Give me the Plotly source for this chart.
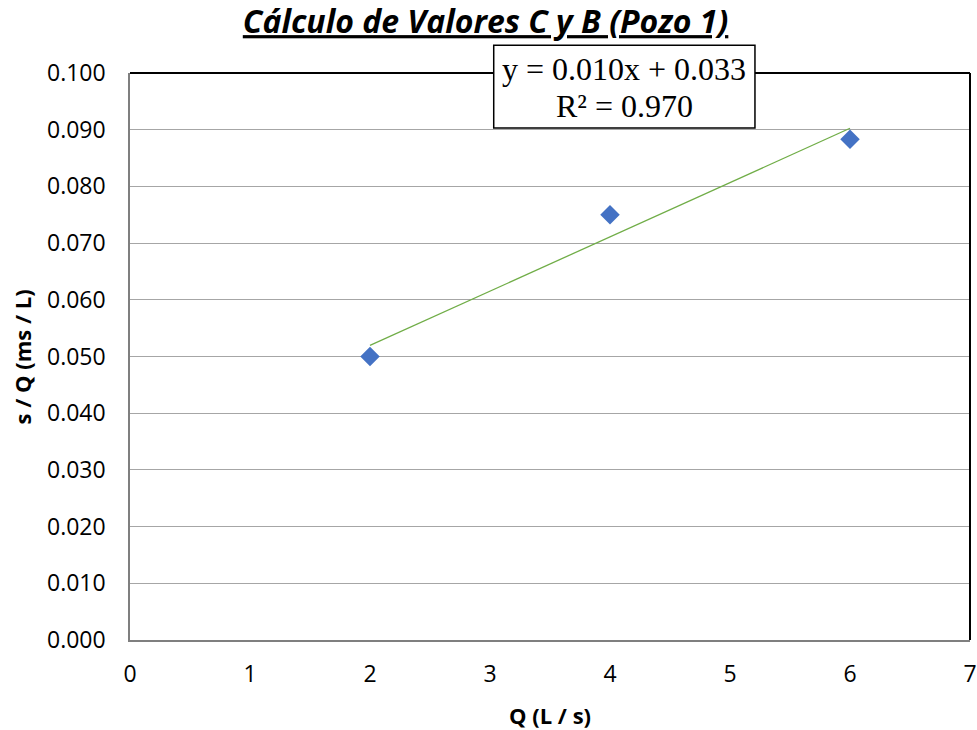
import numpy as np
import plotly.graph_objects as go

q_values = [2, 4, 6]
sq_values = [0.0500, 0.0750, 0.0883]
x_ticks = [0, 1, 2, 3, 4, 5, 6, 7]
y_ticks = [0.000, 0.010, 0.020, 0.030, 0.040, 0.050, 0.060, 0.070, 0.080, 0.090, 0.100]

slope, intercept = np.polyfit(q_values, sq_values, 1)
pred = np.polyval([slope, intercept], q_values)
ss_res = np.sum((np.array(sq_values) - pred) ** 2)
ss_tot = np.sum((np.array(sq_values) - np.mean(sq_values)) ** 2)
r2 = 1 - ss_res / ss_tot
x_line = [min(q_values), max(q_values)]
y_line = list(np.polyval([slope, intercept], x_line))

font_sans = "'Open Sans', sans-serif"
font_serif = "'Liberation Serif', 'Times New Roman', serif"

fig = go.Figure()
fig.add_trace(go.Scatter(x=x_line, y=y_line, mode="lines",
                         line=dict(color="#70AD47", width=1.3), hoverinfo="skip"))
fig.add_trace(go.Scatter(x=q_values, y=sq_values, mode="markers",
                         marker=dict(symbol="diamond", size=15, color="#4472C4")))

fig.update_layout(
    width=977, height=730,
    margin=dict(l=130, r=7, t=73, b=90, autoexpand=False),
    paper_bgcolor="white", plot_bgcolor="white",
    showlegend=False,
    title=dict(text="<b><i><u>Cálculo de Valores C y B (Pozo 1)</u></i></b>",
               x=0.497, xanchor="center", y=0.970, yanchor="middle",
               font=dict(family=font_sans, size=32, color="black")),
    xaxis=dict(range=[0, 7], tickvals=x_ticks, ticktext=[str(v) for v in x_ticks],
               showgrid=False, zeroline=False, showline=True, linecolor="#7F7F7F", linewidth=1.5,
               ticks="", ticklabelstandoff=13, automargin=False,
               tickfont=dict(family=font_sans, size=23, color="black")),
    yaxis=dict(range=[0, 0.100], tickvals=y_ticks, ticktext=[f"{v:.3f}" for v in y_ticks],
               showgrid=True, gridcolor="#A6A6A6", gridwidth=1,
               zeroline=False, showline=True, linecolor="#7F7F7F", linewidth=1.5,
               ticks="", ticklabelstandoff=18, automargin=False,
               tickfont=dict(family=font_sans, size=23, color="black")),
)

# axis titles
fig.add_annotation(xref="paper", yref="paper", x=0.5, y=-0.132, xanchor="center", yanchor="middle",
                   text="<b>Q (L / s)</b>", showarrow=False,
                   font=dict(family=font_sans, size=22, color="black"))
fig.add_annotation(xref="paper", yref="paper", x=-0.1286, y=0.5, xanchor="center", yanchor="middle",
                   text="<b>s / Q (ms / L)</b>", showarrow=False, textangle=-90,
                   font=dict(family=font_sans, size=22, color="black"))

# top and right border of plot area
fig.add_shape(type="line", xref="paper", yref="paper", x0=0, x1=1, y0=1, y1=1,
              line=dict(color="black", width=2), layer="above")
fig.add_shape(type="line", xref="paper", yref="paper", x0=1, x1=1, y0=0, y1=1,
              line=dict(color="black", width=2), layer="above")

# equation box
fig.add_shape(type="rect", xref="paper", yref="paper", x0=0.433, x1=0.744, y0=0.903, y1=1.049,
              line=dict(color="black", width=1.5), fillcolor="white", layer="above")
fig.add_annotation(xref="paper", yref="paper", x=0.5885, y=1.0074, xanchor="center", yanchor="middle",
                   text=f"y = {slope:.3f}x + {intercept:.3f}",
                   showarrow=False, font=dict(family=font_serif, size=32, color="black"))
fig.add_annotation(xref="paper", yref="paper", x=0.5885, y=0.9414, xanchor="center", yanchor="middle",
                   text=f"R² = {r2:.3f}",
                   showarrow=False, font=dict(family=font_serif, size=32, color="black"))

fig.write_html("out.html", config={"displayModeBar": False},
               post_script="document.body.style.margin='0';document.body.style.overflow='hidden';")
